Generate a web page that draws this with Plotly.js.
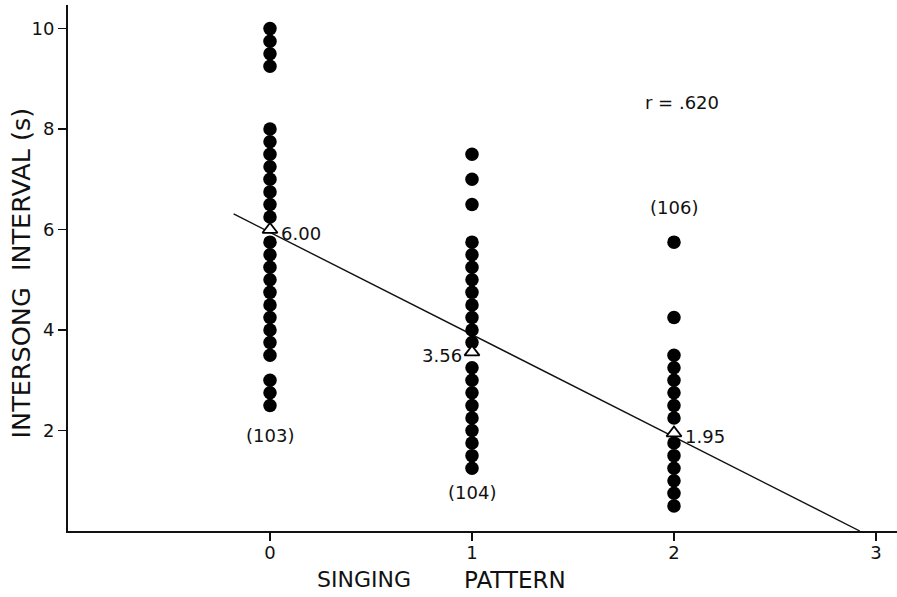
<!DOCTYPE html>
<html>
<head>
<meta charset="utf-8">
<script src="https://cdn.plot.ly/plotly-3.0.1.min.js"></script>
<style>html,body{margin:0;padding:0;background:#fff}#chart{width:897px;height:597px}</style>
</head>
<body>
<div id="chart"></div>
<script>
// Singing pattern categories (x positions)
const patterns = [0, 1, 2];
// Intersong intervals (s) read per singing pattern
const intervals0 = [10, 9.75, 9.5, 9.25, 8, 7.75, 7.5, 7.25, 7, 6.75, 6.5, 6.25, 5.75, 5.5, 5.25, 5, 4.75, 4.5, 4.25, 4, 3.75, 3.5, 3, 2.75, 2.5];
const intervals1 = [7.5, 7, 6.5, 5.75, 5.5, 5.25, 5, 4.75, 4.5, 4.25, 4, 3.75, 3.25, 3, 2.75, 2.5, 2.25, 2, 1.75, 1.5, 1.25];
const intervals2 = [5.75, 4.25, 3.5, 3.25, 3, 2.75, 2.5, 2.25, 1.75, 1.5, 1.25, 1, 0.75, 0.5];
// Means per pattern
const means = [6.00, 3.56, 1.95];
const meanLabels = ["6.00", "3.56", "1.95"];
// Sample sizes
const nLabels = ["(103)", "(104)", "(106)"];
const nLabelY = [1.91, 0.76, 6.43];
// Regression line endpoints
const regX = [-0.18, 2.92];
const regY = [6.31, 0.0];
const rText = "r = .620";
// Tick labels
const xTicks = [0, 1, 2, 3];
const yTicks = [2, 4, 6, 8, 10];

const font = "DejaVu Sans, Verdana, sans-serif";
const ink = '#111';
const dotX = [], dotY = [];
[intervals0, intervals1, intervals2].forEach((arr, i) => {
  arr.forEach(v => { dotX.push(patterns[i]); dotY.push(v); });
});

const traces = [
  {x: regX, y: regY, mode: 'lines', line: {color: ink, width: 1.4}, hoverinfo: 'skip'},
  {x: dotX, y: dotY, mode: 'markers', marker: {color: '#000', size: 13.5}},
  {x: patterns, y: means, mode: 'markers', marker: {symbol: 'triangle-up', color: '#fff', size: 13, line: {color: '#000', width: 1.8}}}
];

const f18 = {size: 18, family: font, color: ink};
const annotations = [
  {x: 0, y: means[0], text: meanLabels[0], xanchor: 'left', xshift: 9, yshift: -4, showarrow: false, font: f18},
  {x: 1, y: means[1], text: meanLabels[1], xanchor: 'right', xshift: -8, yshift: -3, showarrow: false, font: f18},
  {x: 2, y: means[2], text: meanLabels[2], xanchor: 'left', xshift: 9, yshift: -3, showarrow: false, font: f18},
  {x: 0, y: nLabelY[0], text: nLabels[0], showarrow: false, font: f18},
  {x: 1, y: nLabelY[1], text: nLabels[1], showarrow: false, font: f18},
  {x: 2, y: nLabelY[2], text: nLabels[2], showarrow: false, font: f18},
  {x: 2.04, y: 8.52, text: rText, showarrow: false, font: f18},
  {xref: 'paper', yref: 'paper', x: 0.3565, y: -0.093, xanchor: 'center', yanchor: 'middle', text: 'SINGING', showarrow: false, font: {size: 22, family: font, color: ink}},
  {xref: 'paper', yref: 'paper', x: 0.5395, y: -0.093, xanchor: 'center', yanchor: 'middle', text: 'PATTERN', showarrow: false, font: {size: 23, family: font, color: ink}},
  {xref: 'paper', yref: 'paper', x: -0.0565, y: 0.49, xanchor: 'center', yanchor: 'middle', textangle: -90, text: 'INTERSONG&nbsp;&nbsp;INTERVAL&nbsp;(s)', showarrow: false, font: {size: 25.5, family: font, color: ink}}
];

const layout = {
  width: 897, height: 597,
  margin: {l: 68, r: 0, t: 5, b: 66},
  paper_bgcolor: '#fff', plot_bgcolor: '#fff',
  showlegend: false,
  font: {family: font, color: ink, size: 18},
  xaxis: {
    range: [-1, 3.104], tickvals: xTicks, ticktext: xTicks.map(String),
    showgrid: false, zeroline: false, showline: true, linecolor: ink, linewidth: 2,
    ticks: 'outside', ticklen: 8, tickwidth: 1.5, tickcolor: ink, ticklabelstandoff: -4,
    tickfont: {size: 18, family: font, color: ink}, automargin: false
  },
  yaxis: {
    range: [0, 10.47], tickvals: yTicks, ticktext: yTicks.map(String),
    showgrid: false, zeroline: false, showline: true, linecolor: ink, linewidth: 2,
    ticks: 'outside', ticklen: 8, tickwidth: 1.5, tickcolor: ink,
    tickfont: {size: 18, family: font, color: ink}, automargin: false
  },
  annotations: annotations
};

Plotly.newPlot('chart', traces, layout, {displayModeBar: false, staticPlot: true});
</script>
</body>
</html>
